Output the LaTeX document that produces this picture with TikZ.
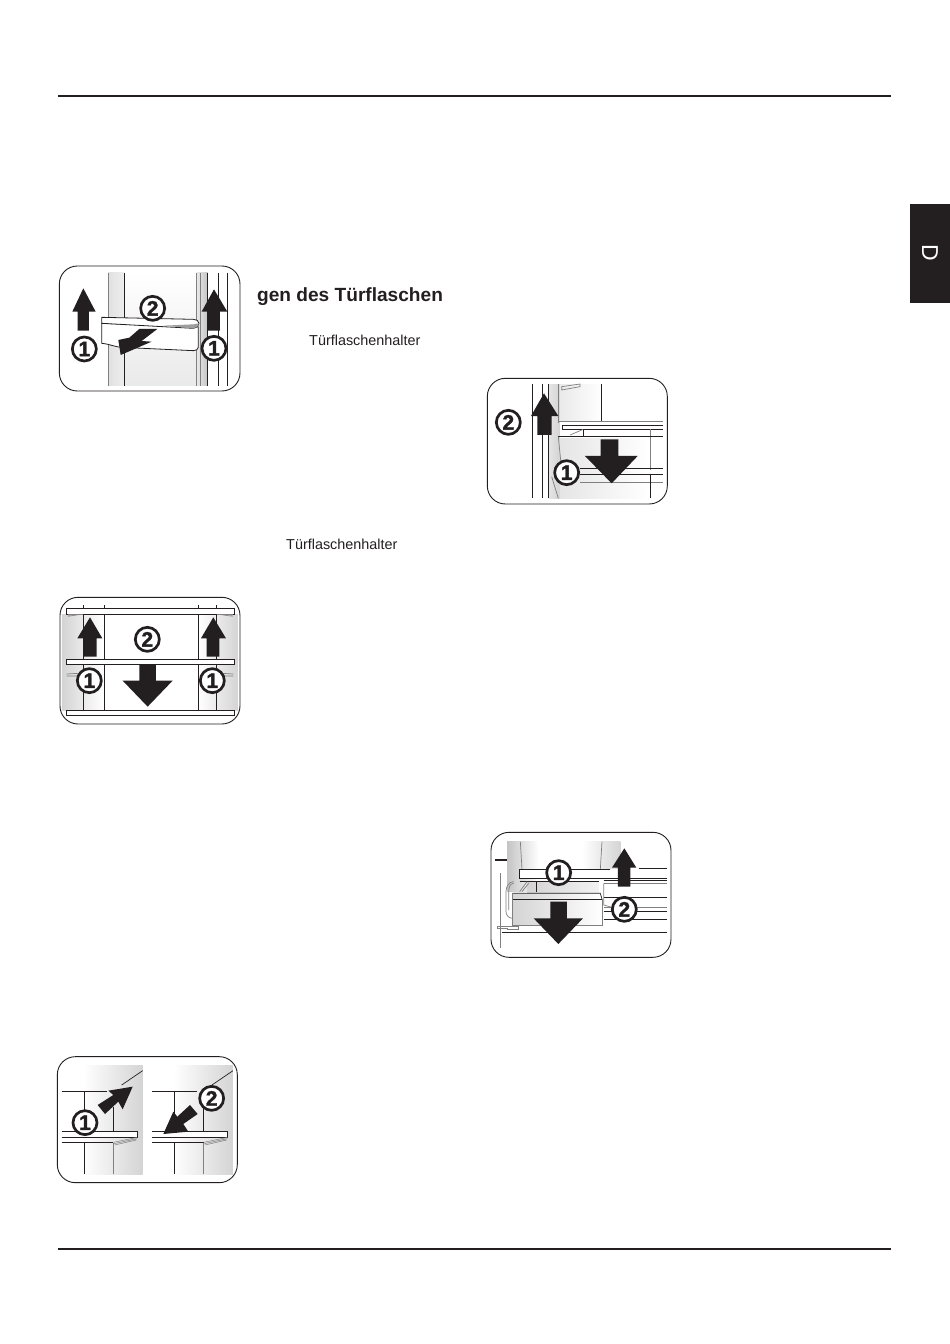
\documentclass[tikz,border=0pt]{standalone}
\usepackage{fontspec}
\setmainfont{Liberation Sans}
\newfontfamily\numfont[FakeBold=1.6]{Liberation Sans Bold}
\definecolor{ink}{HTML}{231F20}
\definecolor{gmid}{HTML}{D4D4D4}
\definecolor{gdark}{HTML}{C4C4C4}
\tikzset{
  panel/.style={draw=ink,line width=0.9pt,fill=white,rounded corners=18pt},
  num/.style={circle,draw=ink,fill=white,line width=2.7pt,minimum size=24pt,inner sep=0pt,font=\numfont\fontsize{21}{21}\selectfont,text=ink},
  blk/.style={fill=ink,draw=none},
  ln/.style={draw=ink,line width=0.7pt},
  thk/.style={draw=ink,line width=1.1pt},
  gln/.style={draw=gray,line width=0.7pt},
  shelf/.style={draw=ink,line width=0.8pt,fill=white},
  hatch/.style={draw=gray,line width=0.5pt},
  rule/.style={draw=ink,line width=2pt},
  lab/.style={anchor=base west,inner sep=0pt,text=ink,font=\fontsize{14.4}{14.4}\selectfont}
}
\begin{document}
\begin{tikzpicture}[x=1pt,y=-1pt]
\useasboundingbox (0,0) rectangle (950,1344);
\fill[white] (0,0) rectangle (950,1344);
\draw[rule] (58,96) -- (891,96);
\draw[rule] (58,1249) -- (891,1249);
\fill[ink] (910,204) rectangle (950,303);
\node[rotate=-90,text=white,font=\fontsize{23}{23}\selectfont,inner sep=0pt] (tabD) at (930,253) {D};
\node[anchor=base west,inner sep=0pt,text=ink,font=\fontsize{19.1}{19.1}\selectfont\bfseries] (head) at (257,301) {gen des Türflaschen};
\node[lab] (t1) at (309,345) {Türflaschenhalter};
\node[lab] (t2) at (286,549) {Türflaschenhalter};

% Panel 1
\begin{scope}[shift={(50,260)},x=0.3333pt,y=-0.3333pt]
\draw[panel] (28,18) rectangle (570,393);
\shade[left color=gmid!70,right color=gmid!40] (175,38) rectangle (222,378);
\shade[top color=white,bottom color=gmid!50] (222,38) rectangle (440,378);
\shade[left color=gmid!50,right color=gdark] (440,38) rectangle (473,378);
\draw[gln] (175,38) -- (175,378);
\draw[ln] (222,38) -- (222,378);
\draw[gln] (440,38) -- (440,378);
\draw[gln] (450,38) -- (450,378);
\draw[ln] (473,38) -- (473,378);
\draw[ln] (505,38) -- (505,378);
\draw[ln] (532,38) -- (532,378);
\draw[shelf] (155,190) -- (155,250) to[out=-5,in=175] (215,262) -- (430,272) to[out=0,in=-90] (445,262) -- (445,200) -- cycle;
\draw[shelf] (155,172) -- (430,178) to[out=0,in=90] (447,190) to[out=-90,in=0] (430,205) -- (155,190) -- cycle;
\fill[gdark!80!black] (340,197) -- (430,205) to[out=0,in=-90] (447,190) -- (430,193) -- cycle;
\fill[blk] (100,85) -- (137,155) -- (117,155) -- (117,212) -- (83,212) -- (83,155) -- (67,155) -- cycle;
\fill[blk] (492,88) -- (532,155) -- (510,155) -- (510,212) -- (473,212) -- (473,155) -- (455,155) -- cycle;
\fill[blk] (322,207) -- (268,207) -- (238,233) -- (205,240) -- (212,285) -- (305,245) -- (275,243) -- cycle;
\node[num] (a1) at (103,267) {1};
\node[num] (a2) at (308,145) {2};
\node[num] (a3) at (492,265) {1};
\end{scope}

% Panel 2
\begin{scope}[shift={(480,370)},x=0.3333pt,y=-0.3333pt]
\draw[panel] (22,25) rectangle (562,402);
\shade[left color=gmid!60,right color=gmid] (205,42) rectangle (240,385);
\shade[left color=gmid!50,right color=white] (240,42) rectangle (365,155);
\shade[left color=gmid!60,right color=white] (240,205) rectangle (505,385);
\draw[thk,line width=1.3pt] (158,42) -- (158,385);
\draw[ln] (188,42) -- (188,385);
\draw[ln] (205,42) -- (205,385);
\draw[gln] (235,42) -- (235,160);
\draw[ln] (365,42) -- (365,155);
\draw[gln] (245,50) -- (300,42) -- (300,50) -- (245,60) -- cycle;
\draw[gln] (235,155) -- (550,155);
\draw[shelf] (550,165) -- (247,165) -- (247,178) -- (550,178);
\draw[gln] (270,195) -- (310,178);
\draw[ln] (310,178) -- (310,200);
\draw[gln] (510,178) -- (510,300);
\draw[ln] (235,200) -- (550,200);
\draw[gln] (235,200) -- (245,300);
\draw[ln] (300,295) -- (550,295);
\draw[thk] (300,313) -- (550,313);
\draw[gln] (300,337) -- (550,337);
\draw[ln] (510,313) -- (510,385);
\draw[gln] (215,320) -- (235,385);
\fill[blk] (192,70) -- (235,138) -- (215,138) -- (215,195) -- (172,195) -- (172,138) -- (153,138) -- cycle;
\fill[blk] (362,208) -- (415,208) -- (415,258) -- (473,258) -- (395,340) -- (315,258) -- (362,258) -- cycle;
\node[num] (b1) at (85,157) {2};
\node[num] (b2) at (260,308) {1};
\end{scope}

% Panel 3
\begin{scope}[shift={(50,590)},x=0.3333pt,y=-0.3333pt]
\draw[panel] (30,22) rectangle (570,402);
\shade[left color=gmid,right color=white] (36,72) rectangle (160,362);
\shade[left color=white,right color=gmid] (445,72) rectangle (564,362);
\foreach \x in {100,163,445,500} {\draw[ln] (\x,45) -- (\x,362);}
\draw[shelf] (50,55) rectangle (552,72);
\draw[shelf] (50,208) rectangle (552,222);
\draw[shelf] (50,362) rectangle (552,375);
\foreach \k in {0,1,2} {
  \draw[hatch] (54,{73+3*\k}) -- (100-10*\k,73+\k);
  \draw[hatch] (548,{73+3*\k}) -- (500+10*\k,73+\k);
}
\draw[gln] (50,252) -- (85,250) (50,258) -- (85,258);
\draw[gln] (515,250) -- (550,252) (515,258) -- (550,258);
\fill[blk] (120,82) -- (157,145) -- (140,145) -- (140,200) -- (102,200) -- (102,145) -- (82,145) -- cycle;
\fill[blk] (490,82) -- (528,145) -- (508,145) -- (508,200) -- (470,200) -- (470,145) -- (453,145) -- cycle;
\fill[blk] (268,225) -- (318,225) -- (318,272) -- (368,272) -- (293,350) -- (218,272) -- (268,272) -- cycle;
\node[num] (c1) at (118,272) {1};
\node[num] (c2) at (292,148) {2};
\node[num] (c3) at (487,272) {1};
\end{scope}

% Panel 4
\begin{scope}[shift={(482,825)},x=0.3333pt,y=-0.3333pt]
\draw[panel] (27,22) rectangle (567,397);
\shade[left color=gdark,right color=white] (75,50) rectangle (170,200);
\shade[left color=white,right color=gmid] (300,50) rectangle (415,130);
\draw[gln] (115,50) -- (120,133);
\draw[gln] (360,50) -- (355,133);
\draw[thk] (38,105) -- (75,105);
\draw[thk] (470,130) -- (555,130);
\draw[line width=1.1pt,draw=ink] (365,160) -- (555,160);
\draw[ln] (365,166) -- (555,166);
\draw[gln] (365,175) -- (555,175);
\draw[ln] (365,218) -- (555,218);
\draw[gln] (365,247) -- (555,247);
\draw[ln] (365,258) -- (555,258);
\draw[ln] (365,283) -- (555,283);
\draw[ln] (60,322) -- (555,322);
\draw[gln] (55,145) -- (55,370);
\draw[gln] (365,175) -- (365,240) -- (390,247);
\draw[shelf] (385,133) -- (113,133) -- (113,160) -- (385,160);
\shade[left color=gmid,right color=gmid!30] (135,170) rectangle (350,205);
\draw[ln] (113,170) -- (350,170);
\draw[gln] (113,200) -- (135,170);
\draw[gln] (120,200) -- (140,175);
\draw[ln] (163,170) -- (163,200);
\draw[gln] (95,170) to[out=180,in=90] (72,200) -- (72,260) to[out=-90,in=180] (92,280);
\draw[gln] (95,175) to[out=180,in=90] (80,200) -- (80,255);
\shade[left color=gmid,right color=white] (92,205) -- (350,205) -- (360,225) -- (360,300) -- (92,300) -- cycle;
\draw[ln] (92,222) -- (360,222);
\draw[ln] (92,205) -- (355,205) -- (360,222);
\draw[gln] (92,205) -- (92,300) -- (360,300) -- (360,222);
\draw[gln] (45,305) -- (110,305) -- (110,313) -- (75,313) -- (75,310) -- (45,310) -- cycle;
\fill[blk] (427,70) -- (463,128) -- (445,128) -- (445,185) -- (408,185) -- (408,128) -- (390,128) -- cycle;
\fill[blk] (205,230) -- (255,230) -- (255,280) -- (303,280) -- (229,357) -- (155,280) -- (205,280) -- cycle;
\node[num] (d1) at (230,143) {1};
\node[num] (d2) at (427,253) {2};
\end{scope}

% Panel 5
\begin{scope}[shift={(50,1050)},x=0.3333pt,y=-0.3333pt]
\draw[panel] (22,20) rectangle (562,398);
\foreach \d in {0,271} {
\begin{scope}[xshift=\d*0.3333pt]
\shade[left color=white,right color=gmid] (100,45) rectangle (278,372);
\draw[ln] (35,125) -- (170,125);
\draw[ln] (215,105) -- (278,62);
\draw[ln] (103,125) -- (103,245);
\draw[ln] (103,277) -- (103,372);
\draw[ln] (190,170) -- (190,245);
\draw[gln] (190,280) -- (190,372);
\draw[shelf] (35,245) -- (262,245) -- (262,262) -- (35,262);
\draw[ln] (35,277) -- (190,277);
\draw[hatch] (190,277) -- (262,262) (192,281) -- (261,266) (194,285) -- (259,270);
\end{scope}
}
\fill[blk] (143,165) -- (165,192) -- (205,155) -- (218,178) -- (248,110) -- (175,122) -- (190,135) -- cycle;
\fill[blk] (420,165) -- (443,192) -- (400,222) -- (415,245) -- (340,252) -- (370,185) -- (382,200) -- cycle;
\node[num] (e1) at (105,218) {1};
\node[num] (e2) at (485,145) {2};
\end{scope}
\end{tikzpicture}
\end{document}
